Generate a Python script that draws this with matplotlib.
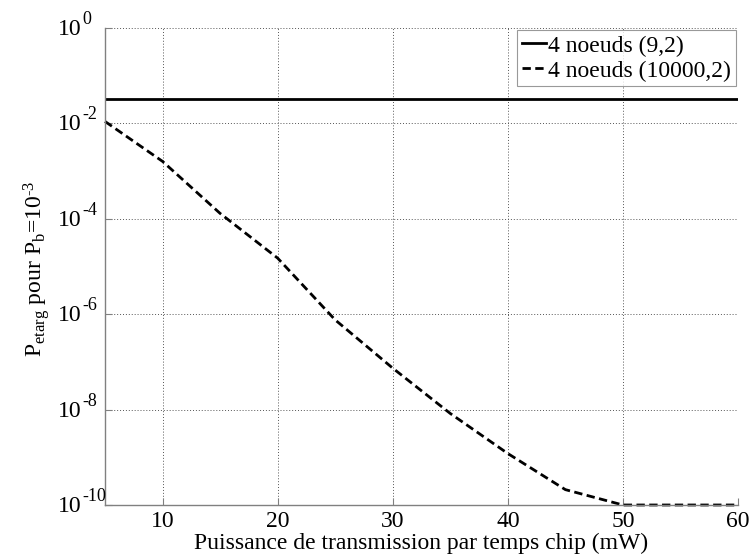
import matplotlib
matplotlib.use("Agg")
import matplotlib.pyplot as plt
import matplotlib.transforms as mtransforms
from matplotlib.ticker import FixedLocator, NullLocator, NullFormatter
import math

plt.rcParams['font.family'] = ['Liberation Serif', 'DejaVu Serif']
plt.rcParams['mathtext.fontset'] = 'custom'
plt.rcParams['mathtext.rm'] = 'Liberation Serif'
plt.rcParams['mathtext.it'] = 'Liberation Serif:italic'

# Data
puissance = [5, 10, 15, 20, 25, 30, 35, 40, 45, 50, 55, 60]
serie_9_2 = [3.3e-2] * len(puissance)
serie_10000_2 = [1.1e-2, 1.6e-3, 1.3e-4, 1.5e-5, 7.6e-7, 7.4e-8, 8.3e-9,
                 1.2e-9, 2.1e-10, 1e-10, 1e-10, 1e-10]
labels = ["4 noeuds (9,2)", "4 noeuds (10000,2)"]
xticks = [10, 20, 30, 40, 50, 60]
yticks = [1e-10, 1e-8, 1e-6, 1e-4, 1e-2, 1e0]

FS = 17
fig = plt.figure(figsize=(7.5, 5.55), dpi=100)
ax = fig.add_axes([0.14, 0.0901, 0.844, 0.8594])

ax.plot(puissance, serie_9_2, color='black', lw=2.0, ls='-', label=labels[0])
ax.plot(puissance, serie_10000_2, color='black', lw=2.0, ls=(0, (3.0, 1.6)),
        label=labels[1], clip_on=False)

ax.set_yscale('log')
ax.set_xlim(5, 60)
ax.set_ylim(1e-10, 1e0)
ax.xaxis.set_major_locator(FixedLocator(xticks))
ax.yaxis.set_major_locator(FixedLocator(yticks))
ax.yaxis.set_major_formatter(NullFormatter())
ax.yaxis.set_minor_locator(NullLocator())
ax.yaxis.set_minor_formatter(NullFormatter())
ax.xaxis.set_minor_locator(NullLocator())

ax.grid(True, which='major', color='#555555', ls=(0, (1, 2)), lw=0.7)
ax.set_axisbelow(True)
for s in ['top', 'right']:
    ax.spines[s].set_visible(False)
for s in ['left', 'bottom']:
    ax.spines[s].set_color('#808080')
    ax.spines[s].set_linewidth(1.0)

ax.tick_params(axis='both', direction='in', length=5, color='#808080',
               labelsize=FS, labelcolor='black', pad=4)

# y tick labels: "10" with a raised exponent (MATLAB style)
blend = mtransforms.blended_transform_factory(fig.transFigure, ax.transData)
for t in yticks:
    e = int(round(math.log10(t)))
    base_tr = blend + mtransforms.ScaledTranslation(0, -7 / 100, fig.dpi_scale_trans)
    exp_tr = blend + mtransforms.ScaledTranslation(0, 4 / 100, fig.dpi_scale_trans)
    ax.text(58 / 750, t, "10", transform=base_tr, fontsize=FS,
            ha='left', va='baseline', clip_on=False)
    ax.text(82 / 750, t, str(e), transform=exp_tr, fontsize=13,
            ha='left', va='baseline', clip_on=False)

fig.text(421 / 750, 1 - 549 / 555, 'Puissance de transmission par temps chip (mW)',
         ha='center', va='baseline', fontsize=FS)
fig.text(36 / 750, 1 - 269 / 555,
         'P$_{\\mathrm{etarg}}$ pour P$_{\\mathrm{b}}$=10$^{\\mathrm{\u20103}}$',
         rotation=90, ha='center', va='center', fontsize=FS)

leg = ax.legend(loc='upper right', fontsize=FS, frameon=True, fancybox=False,
                edgecolor='#808080', handlelength=1.0, handletextpad=0.1,
                borderpad=0.2, borderaxespad=0.1, labelspacing=0.15)
leg.get_frame().set_linewidth(0.8)

fig.savefig('out.png', dpi=100)
